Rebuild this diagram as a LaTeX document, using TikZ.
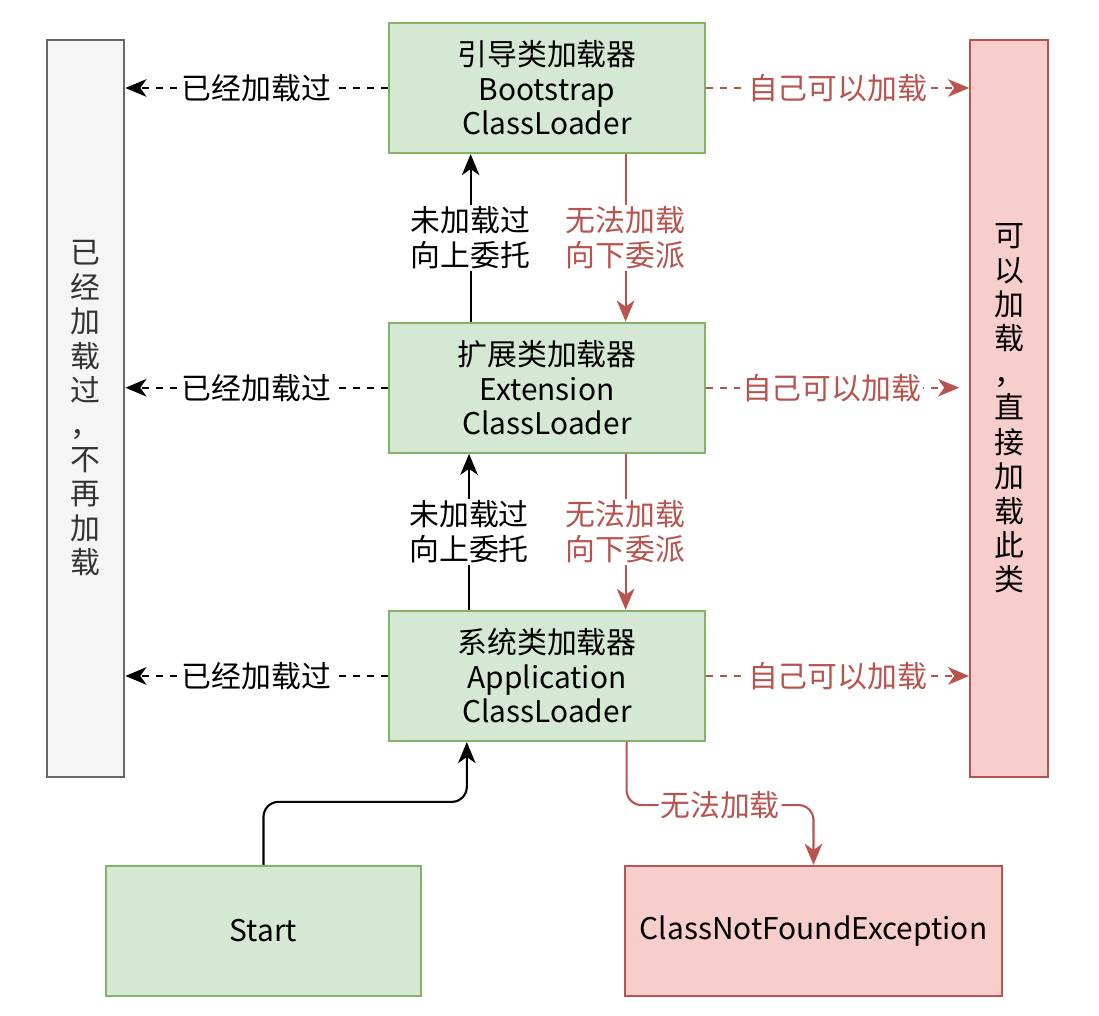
\documentclass[tikz,border=0pt]{standalone}
\usepackage{fontspec}
\setmainfont{Noto Sans CJK SC}
\usetikzlibrary{calc,arrows.meta,positioning}
\definecolor{greenfill}{HTML}{D5E8D4}
\definecolor{greenline}{HTML}{82B366}
\definecolor{redfill}{HTML}{F8CECC}
\definecolor{redline}{HTML}{B85450}
\definecolor{grayfill}{HTML}{F5F5F5}
\definecolor{grayline}{HTML}{666666}
\definecolor{graytext}{HTML}{333333}

\begin{document}
\begin{tikzpicture}[x=0.02cm,y=-0.02cm,
  font=\fontsize{17}{19.6}\selectfont,
  loaderbox/.style={draw=greenline,fill=greenfill,line width=1.3pt,rectangle,
    minimum width=6.32cm,minimum height=2.6cm,inner sep=0pt,align=center},
  sidebox/.style={rectangle,line width=1.3pt,minimum width=1.55cm,
    minimum height=14.74cm,inner sep=0pt,align=center},
  arrow/.style={-{Stealth[length=12pt,width=10pt,inset=3.5pt]},line width=1.2pt},
  dasharrow/.style={arrow,dash pattern=on 4pt off 4pt},
  redarrow/.style={arrow,draw=redline},
  tag/.style={fill=white,inner sep=1pt,align=center}]

  \useasboundingbox (0,0) rectangle (1099,1016);

  \node[loaderbox] (boot) at (547,88) {引导类加载器\\Bootstrap\\ClassLoader};
  \node[loaderbox] (ext) [below=3.35cm of boot] {扩展类加载器\\Extension\\ClassLoader};
  \node[loaderbox] (app) [below=3.12cm of ext] {系统类加载器\\Application\\ClassLoader};
  \node[loaderbox,minimum width=6.3cm] (start) at (263.5,931) {Start};
  \node[loaderbox,draw=redline,fill=redfill,minimum width=7.54cm] (notfound) at (813.5,931)
    {ClassNotFoundException};

  \node[sidebox,draw=grayline,fill=grayfill,text=graytext] (loaded) at (85.5,408.5)
    {已\\经\\加\\载\\过\\，\\不\\再\\加\\载};
  \node[sidebox,draw=redline,fill=redfill] (loadable) at (1009,408.5)
    {可\\以\\加\\载\\，\\直\\接\\加\\载\\此\\类};

  \foreach \loader in {boot,ext,app} {
    \draw[dasharrow] (\loader.west) -- node[tag] {已经加载过} (\loader.west -| loaded.east);
  }
  \draw[dasharrow,redarrow] (boot.east) -- node[tag,text=redline] {自己可以加载} (boot.east -| loadable.west);
  \draw[dasharrow,redarrow,shorten >=0.2cm] (ext.east) -- node[tag,text=redline,xshift=-0.12cm] {自己可以加载} (ext.east -| loadable.west);
  \draw[dasharrow,redarrow] (app.east) -- node[tag,text=redline] {自己可以加载} (app.east -| loadable.west);

  \draw[arrow] ($(ext.north west)!0.26!(ext.north east)$) -- node[tag] {未加载过\\向上委托}
    ($(boot.south west)!0.26!(boot.south east)$);
  \draw[redarrow] ($(boot.south west)!0.747!(boot.south east)$) -- node[tag,text=redline] {无法加载\\向下委派}
    ($(ext.north west)!0.747!(ext.north east)$);
  \draw[arrow] ($(app.north west)!0.255!(app.north east)$) -- node[tag] {未加载过\\向上委托}
    ($(ext.south west)!0.255!(ext.south east)$);
  \draw[redarrow] ($(ext.south west)!0.747!(ext.south east)$) -- node[tag,text=redline] {无法加载\\向下委派}
    ($(app.north west)!0.747!(app.north east)$);

  \draw[arrow,rounded corners=0.3cm] (start.north) -- ++(0,-63) -| ($(app.south west)!0.248!(app.south east)$);
  \draw[redarrow,rounded corners=0.3cm] ($(app.south west)!0.75!(app.south east)$) -- ++(0,63)
    -| node[pos=0.25,tag,text=redline] {无法加载} (notfound.north);
\end{tikzpicture}
\end{document}
